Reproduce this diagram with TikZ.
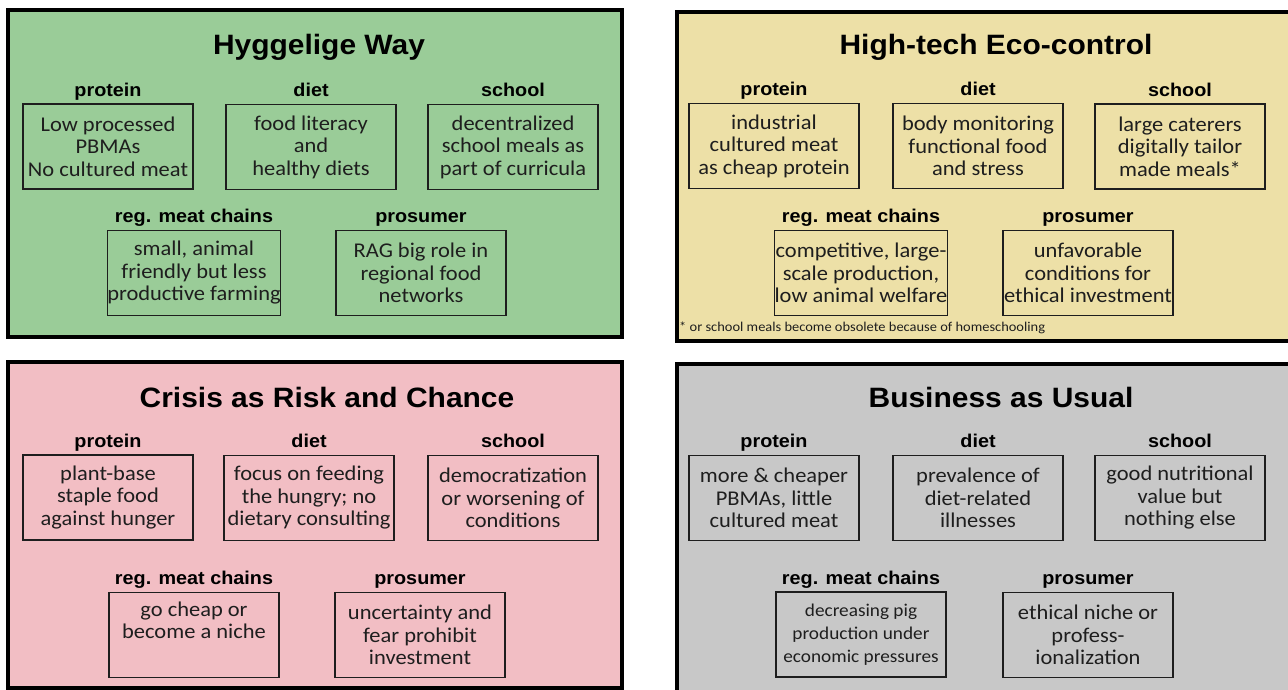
\documentclass[tikz,border=0pt]{standalone}
\usepackage{fontspec}
\setmainfont{Carlito}[FakeStretch=1.07]
\newfontfamily\headfont{Liberation Sans}[FakeStretch=1.07]
\definecolor{hygge}{RGB}{154,204,152}
\definecolor{hightech}{RGB}{237,224,167}
\definecolor{crisis}{RGB}{242,190,196}
\definecolor{usual}{RGB}{200,200,200}
\definecolor{ink}{RGB}{30,30,30}
\tikzset{
  panel/.style={draw=black, line width=4pt},
  title/.style={font=\headfont\bfseries\fontsize{28}{30}\selectfont, text=black, anchor=base, inner sep=0pt},
  cell/.style={draw=ink, line width=1.4pt, minimum width=170pt, minimum height=85pt,
    inner sep=0pt, align=center, text=ink, font=\fontsize{21}{22.5}\selectfont},
  smallcell/.style={cell, font=\fontsize{18}{23}\selectfont},
  lbl/.style={font=\headfont\bfseries\fontsize{18.5}{20}\selectfont, text=black, anchor=base, inner sep=0pt},
  note/.style={font=\fontsize{13.5}{15}\selectfont, text=ink, anchor=base west, inner sep=0pt},
}
% category heading above a cell
\newcommand{\cellhead}[2]{\node[lbl] (#1-l) at ([yshift=7pt]#1.north) {#2};}
\begin{document}
\begin{tikzpicture}[x=1pt,y=-1pt]
\clip (0,0) rectangle (1288,690);
\fill[white] (0,0) rectangle (1288,690);

% ---------- panels ----------
\draw[panel, fill=hygge]    (8,10)   rectangle (622,337);
\draw[panel, fill=hightech] (677,12) rectangle (1300,341);
\draw[panel, fill=crisis]   (8,362)  rectangle (622,688);
\draw[panel, fill=usual]    (677,364) rectangle (1300,700);

% ---------- Hyggelige Way ----------
\node[title] (h-title) at (319,55) {Hyggelige Way};
\node[cell] (h-protein) at (108,146.5) {Low processed\\PBMAs\\No cultured meat};
\node[cell] (h-diet)    at (311,147) {food literacy\\and\\healthy diets};
\node[cell] (h-school)  at (513,147) {decentralized\\school meals as\\part of curricula};
\node[cell] (h-reg)     at (194,273) {small, animal\\friendly but less\\productive farming};
\node[cell] (h-pros)    at (421,273) {RAG big role in\\regional food\\networks};
\cellhead{h-protein}{protein}
\cellhead{h-diet}{diet}
\cellhead{h-school}{school}
\cellhead{h-reg}{reg. meat chains}
\cellhead{h-pros}{prosumer}

% ---------- High-tech Eco-control ----------
\node[title] (t-title) at (996,55) {High-tech Eco-control};
\node[cell] (t-protein) at (774,146) {industrial\\cultured meat\\as cheap protein};
\node[cell] (t-diet)    at (978,146) {body monitoring\\functional food\\and stress};
\node[cell] (t-school)  at (1180,146.5) {large caterers\\digitally tailor\\made meals*};
\node[cell] (t-reg)     at (861,273) {competitive, large-\\scale production,\\low animal welfare};
\node[cell] (t-pros)    at (1088,273) {unfavorable\\conditions for\\ethical investment};
\cellhead{t-protein}{protein}
\cellhead{t-diet}{diet}
\cellhead{t-school}{school}
\cellhead{t-reg}{reg. meat chains}
\cellhead{t-pros}{prosumer}
\node[note] (t-note) at (679,331) {* or school meals become obsolete because of homeschooling};

% ---------- Crisis as Risk and Chance ----------
\node[title] (c-title) at (327,407) {Crisis as Risk and Chance};
\node[cell] (c-protein) at (108,497.5) {plant-base\\staple food\\against hunger};
\node[cell] (c-diet)    at (309,498) {focus on feeding\\the hungry; no\\dietary consulting};
\node[cell] (c-school)  at (513,498) {democratization\\or worsening of\\conditions};
\node[cell] (c-reg)     at (194,635) {go cheap or\\become a niche\\\strut};
\node[cell] (c-pros)    at (420,635) {uncertainty and\\fear prohibit\\investment};
\cellhead{c-protein}{protein}
\cellhead{c-diet}{diet}
\cellhead{c-school}{school}
\cellhead{c-reg}{reg. meat chains}
\cellhead{c-pros}{prosumer}

% ---------- Business as Usual ----------
\node[title] (b-title) at (1001,407) {Business as Usual};
\node[cell] (b-protein) at (774,498) {more \& cheaper\\PBMAs, little\\cultured meat};
\node[cell] (b-diet)    at (978,498) {prevalence of\\diet-related\\illnesses};
\node[cell] (b-school)  at (1180,498) {good nutritional\\value but\\nothing else};
\node[smallcell] (b-reg) at (861,634.5) {decreasing pig\\production under\\economic pressures};
\node[cell] (b-pros)    at (1088,635) {ethical niche or\\profess-\\ionalization};
\cellhead{b-protein}{protein}
\cellhead{b-diet}{diet}
\cellhead{b-school}{school}
\cellhead{b-reg}{reg. meat chains}
\cellhead{b-pros}{prosumer}
\end{tikzpicture}
\end{document}
